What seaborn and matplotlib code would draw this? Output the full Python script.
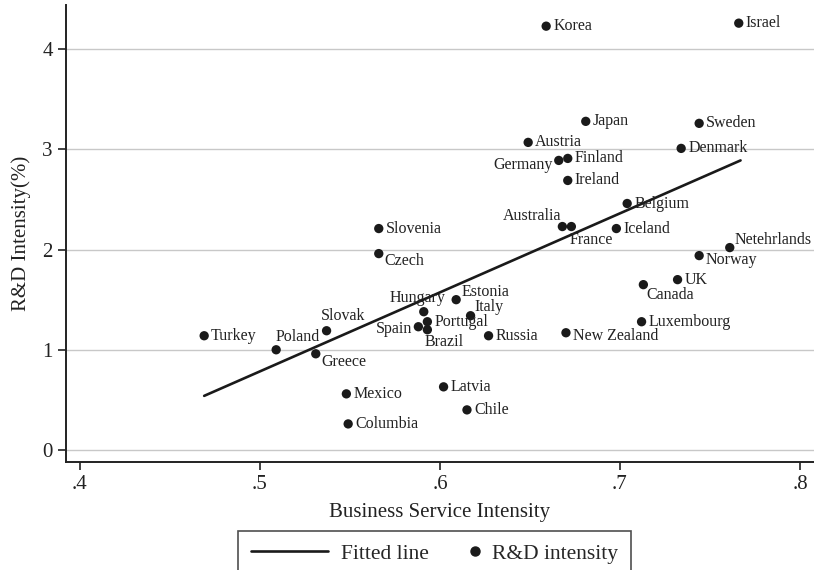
import matplotlib
matplotlib.use("Agg")
import matplotlib.pyplot as plt
import seaborn as sns
import pandas as pd
from matplotlib.lines import Line2D

countries = ["Turkey", "Poland", "Greece", "Slovak", "Mexico", "Columbia", "Slovenia", "Czech",
             "Hungary", "Spain", "Portugal", "Brazil", "Estonia", "Italy", "Russia", "Latvia",
             "Chile", "Korea", "Israel", "Japan", "Austria", "Germany", "Finland", "Ireland",
             "Belgium", "Australia", "France", "Iceland", "Sweden", "Denmark", "Netehrlands",
             "Norway", "UK", "Canada", "Luxembourg", "New Zealand"]
bsi = [0.469, 0.509, 0.531, 0.537, 0.548, 0.549, 0.566, 0.566,
       0.591, 0.588, 0.593, 0.593, 0.609, 0.617, 0.627, 0.602,
       0.615, 0.659, 0.766, 0.681, 0.649, 0.666, 0.671, 0.671,
       0.704, 0.668, 0.673, 0.698, 0.744, 0.734, 0.761,
       0.744, 0.732, 0.713, 0.712, 0.670]
rd = [1.14, 1.00, 0.96, 1.19, 0.56, 0.26, 2.21, 1.96,
      1.38, 1.23, 1.28, 1.20, 1.50, 1.34, 1.14, 0.63,
      0.40, 4.23, 4.26, 3.28, 3.07, 2.89, 2.91, 2.69,
      2.46, 2.23, 2.23, 2.21, 3.26, 3.01, 2.02,
      1.94, 1.70, 1.65, 1.28, 1.17]
fit_x = [0.469, 0.767]
fit_y = [0.54, 2.89]
x_ticks = [0.4, 0.5, 0.6, 0.7, 0.8]
x_tick_labels = [".4", ".5", ".6", ".7", ".8"]
y_ticks = [0, 1, 2, 3, 4]
legend_labels = ["Fitted line", "R&D intensity"]

# label offsets (pixels) and alignment
label_pos = {
    "Poland": (-1, 13, "left"), "Slovak": (-6, 15, "left"), "Greece": (6, -8, "left"),
    "Czech": (6, -7, "left"), "Hungary": (-6, 14, "center"), "Estonia": (5, 8, "left"),
    "Italy": (4, 9, "left"), "Spain": (-6, -2, "right"), "Brazil": (-3, -12, "left"),
    "Germany": (-6, -5, "right"), "Australia": (-1, 11, "right"), "France": (-2, -13, "left"),
    "Netehrlands": (5, 8, "left"), "Norway": (6, -4, "left"), "Canada": (3, -10, "left"),
    "New Zealand": (7, -3, "left"),
}

sns.set_theme(style="white")
plt.rcParams["font.family"] = ["Liberation Serif", "DejaVu Serif"]

INK = "#1a1a1a"
df = pd.DataFrame({"bsi": bsi, "rd": rd, "country": countries})
fit = pd.DataFrame({"x": fit_x, "y": fit_y})

fig = plt.figure(figsize=(8.14, 5.70), dpi=100)
ax = fig.add_axes([0.081, 0.1895, 0.919, 0.8015])

ax.set_axisbelow(True)
ax.yaxis.grid(True, color="#c8c8c8", linewidth=1.0)
ax.xaxis.grid(False)

sns.lineplot(data=fit, x="x", y="y", ax=ax, color=INK, linewidth=1.9, legend=False)
sns.scatterplot(data=df, x="bsi", y="rd", ax=ax, color=INK, s=45, edgecolor="none",
                legend=False, zorder=3)

for c, x, y in zip(countries, bsi, rd):
    dx, dy, ha = label_pos.get(c, (7, 0, "left"))
    ax.annotate(c, (x, y), xytext=(dx, dy), textcoords="offset pixels",
                ha=ha, va="center", fontsize=11.5, color="#222222")

ax.set_xlim(0.3922, 0.8078)
ax.set_ylim(-0.12, 4.44)
ax.set_xticks(x_ticks)
ax.set_xticklabels(x_tick_labels)
ax.set_yticks(y_ticks)
ax.tick_params(axis="both", which="both", direction="out", length=6, width=1.2,
               labelsize=15, colors="#222222", left=True, bottom=True)
ax.set_xlabel("Business Service Intensity", fontsize=15, color="#222222", labelpad=6)
ax.set_ylabel("R&D Intensity(%)", fontsize=15, color="#222222", labelpad=8)

for s in ["top", "right"]:
    ax.spines[s].set_visible(False)
for s in ["left", "bottom"]:
    ax.spines[s].set_color("#222222")
    ax.spines[s].set_linewidth(1.4)


class DotHandler:
    """Draw the legend dot near the right end of its handle box."""
    def legend_artist(self, legend, orig_handle, fontsize, handlebox):
        x0, y0 = handlebox.xdescent, handlebox.ydescent
        w, h = handlebox.width, handlebox.height
        m = Line2D([x0 + w - 3], [y0 + h / 2], marker="o", color=INK,
                   markersize=6.5, linestyle="none")
        handlebox.add_artist(m)
        return m


line_h = Line2D([0], [0], color=INK, linewidth=1.9)
dot_h = Line2D([0], [0], marker="o", color=INK, linestyle="none", markersize=6.5)
leg = fig.legend([line_h, dot_h], legend_labels, loc="upper center",
                 bbox_to_anchor=(0.5335, 0.0684), borderaxespad=0, ncol=2,
                 frameon=True, fancybox=False, fontsize=15.5, handlelength=3.6,
                 columnspacing=-1.3, borderpad=0.6, handletextpad=0.6,
                 handler_map={dot_h: DotHandler()})
leg.get_frame().set_edgecolor("#222222")
leg.get_frame().set_linewidth(1.2)

fig.savefig("out.png", dpi=100)
